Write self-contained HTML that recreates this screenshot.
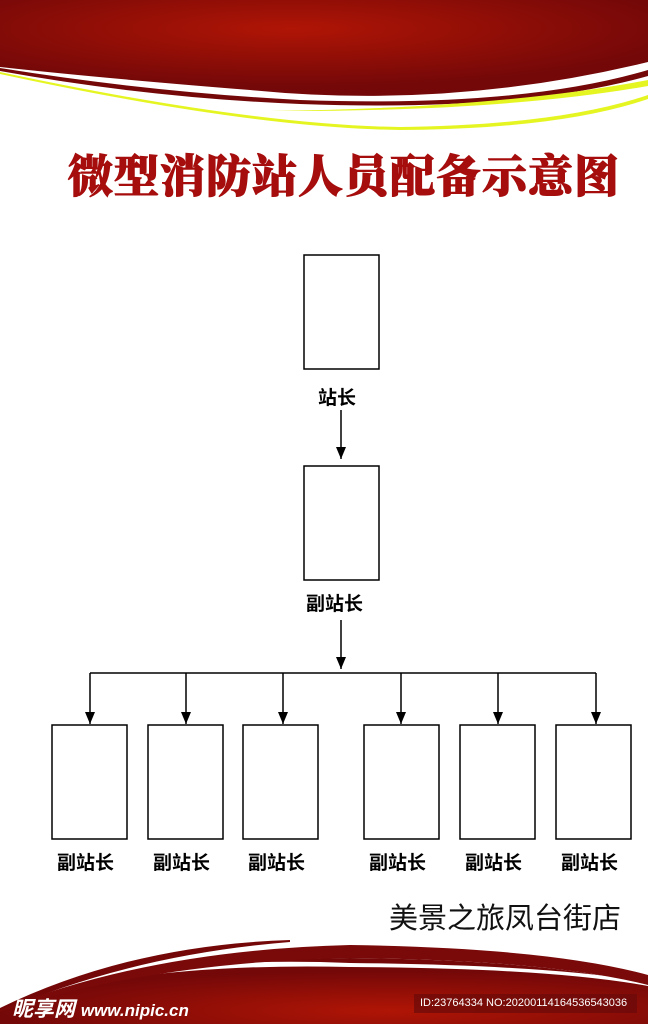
<!DOCTYPE html>
<html><head><meta charset="utf-8"><style>
body{margin:0;width:648px;height:1024px;overflow:hidden;background:#fff;position:relative;font-family:"Liberation Sans","Noto Sans CJK SC",sans-serif}
svg{position:absolute;left:0;top:0}
.t{position:absolute;white-space:nowrap}
</style></head><body>
<svg width="648" height="1024" viewBox="0 0 648 1024">
<defs>
<radialGradient id="g1" cx="0.45" cy="0.3" r="0.6"><stop offset="0" stop-color="#b01505"/><stop offset="1" stop-color="#740808"/></radialGradient>
<radialGradient id="g2" cx="0.6" cy="0.8" r="0.6"><stop offset="0" stop-color="#b01505"/><stop offset="1" stop-color="#740808"/></radialGradient>
<marker id="a" markerWidth="12" markerHeight="10" refX="12" refY="5" orient="auto" markerUnits="userSpaceOnUse"><path d="M0,0 L12,5 L0,10z" fill="#000"/></marker>
</defs>
<path d="M0,0 H648 V62 Q450,110 250,90 Q100,78 0,67 Z" fill="url(#g1)"/>
<path d="M0,68 Q150,92 300,100 Q520,108 648,70 L648,76 Q520,112 300,104 Q150,98 0,71Z" fill="#740808"/>
<path d="M0,72 Q250,125 400,127 Q560,125 648,95 L648,99 Q560,129 400,130 Q250,128 0,74Z" fill="#e5f522"/>
<path d="M270,111 Q500,108 648,80 L648,86 Q500,112 270,111Z" fill="#e5f522"/>
<path d="M0,1024 V1010 Q150,960 350,958 Q550,960 648,985 V1024Z" fill="url(#g2)"/>
<path d="M0,1000 Q150,955 350,963 Q550,965 648,982 L648,986 Q550,968 350,967 Q150,962 0,1003Z" fill="#fff"/>
<path d="M0,1008 Q130,945 290,940 L290,942 Q130,955 0,1012Z" fill="#740808"/>
<path d="M0,1010 Q150,950 350,945 Q550,948 648,975 L648,985 Q550,960 350,958 Q150,962 0,1012Z" fill="#7a0a0a"/>
<rect x="414" y="994" width="223" height="19" fill="#6a0a0a" opacity="0.7"/>
<g fill="none" stroke="#000" stroke-width="1.5">
<rect x="304" y="255" width="75" height="114"/>
<rect x="304" y="466" width="75" height="114"/>
<rect x="52" y="725" width="75" height="114"/>
<rect x="148" y="725" width="75" height="114"/>
<rect x="243" y="725" width="75" height="114"/>
<rect x="364" y="725" width="75" height="114"/>
<rect x="460" y="725" width="75" height="114"/>
<rect x="556" y="725" width="75" height="114"/>
<line x1="341" y1="410" x2="341" y2="459" marker-end="url(#a)"/>
<line x1="341" y1="620" x2="341" y2="669" marker-end="url(#a)"/>
<line x1="90" y1="673" x2="596" y2="673"/>
<line x1="90" y1="673" x2="90" y2="724" marker-end="url(#a)"/>
<line x1="186" y1="673" x2="186" y2="724" marker-end="url(#a)"/>
<line x1="283" y1="673" x2="283" y2="724" marker-end="url(#a)"/>
<line x1="401" y1="673" x2="401" y2="724" marker-end="url(#a)"/>
<line x1="498" y1="673" x2="498" y2="724" marker-end="url(#a)"/>
<line x1="596" y1="673" x2="596" y2="724" marker-end="url(#a)"/>
</g>
</svg>
<div class="t" style="left:68px;top:140px;font:900 45px 'Noto Serif CJK SC',serif;color:#a60d0d;letter-spacing:1px;-webkit-text-stroke:1px #a60d0d">微型消防站人员配备示意图</div>
<div class="t" style="left:318px;top:383px;font-size:19px;font-weight:bold">站长</div>
<div class="t" style="left:306px;top:589px;font-size:19px;font-weight:bold">副站长</div>
<div class="t" style="left:57px;top:848px;font-size:19px;font-weight:bold">副站长</div>
<div class="t" style="left:153px;top:848px;font-size:19px;font-weight:bold">副站长</div>
<div class="t" style="left:248px;top:848px;font-size:19px;font-weight:bold">副站长</div>
<div class="t" style="left:369px;top:848px;font-size:19px;font-weight:bold">副站长</div>
<div class="t" style="left:465px;top:848px;font-size:19px;font-weight:bold">副站长</div>
<div class="t" style="left:561px;top:848px;font-size:19px;font-weight:bold">副站长</div>
<div class="t" style="left:389px;top:895px;font-size:29px;color:#111">美景之旅凤台街店</div>
<div class="t" style="left:12px;top:993px;font:italic bold 21px 'Liberation Sans','Noto Sans CJK SC',sans-serif;color:#fff">昵享网 <span style="font-size:17px">www.nipic.cn</span></div>
<div class="t" style="left:420px;top:997px;font-size:11px;color:#fff">ID:23764334 NO:20200114164536543036</div>
</body></html>
